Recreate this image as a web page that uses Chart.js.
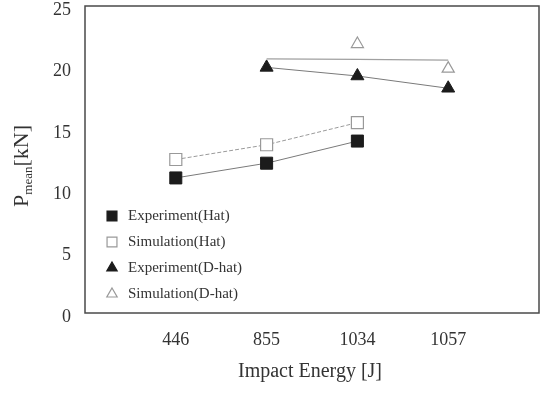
<!DOCTYPE html>
<html>
<head>
<meta charset="utf-8">
<script src="https://cdn.jsdelivr.net/npm/chart.js@4/dist/chart.umd.min.js"></script>
<style>
  html, body { margin: 0; padding: 0; background: #fff; }
  #wrap { width: 545px; height: 393px; }
</style>
</head>
<body>
<div id="wrap"><canvas id="pmean"></canvas></div>
<script>
// x categories (blank slots at both ends keep the points off the frame)
const energies = ['', '446', '855', '1034', '1057', ''];

// P_mean values in kN, null where not measured
const expHat  = [null, 11.0, 12.2, 14.0, null, null];
const simHat  = [null, 12.5, 13.7, 15.5, null, null];
const expDhat = [null, null, 20.0, 19.3, 18.3, null];
const simDhat = [null, null, null, 21.9, 19.9, null];
// straight fit line drawn through the D-hat simulation
const simDhatFit = [null, null, 20.7, 20.65, 20.6, null];

const yTicks = [0, 5, 10, 15, 20, 25];

const serif = '"Liberation Serif", "DejaVu Serif", serif';
const ink = '#333333';

// frame, axis titles and in-plot legend
const decorations = {
  id: 'decorations',
  afterDraw(chart) {
    const ctx = chart.ctx;
    const a = chart.chartArea;
    ctx.save();
    ctx.strokeStyle = '#4a4a4a';
    ctx.lineWidth = 1.5;
    ctx.strokeRect(a.left, a.top, a.right - a.left, a.bottom - a.top);

    ctx.fillStyle = ink;
    ctx.textBaseline = 'middle';
    ctx.textAlign = 'center';
    ctx.font = '20px ' + serif;
    ctx.fillText('Impact Energy [J]', 310, 372);

    // y title with subscript
    ctx.translate(22, 166);
    ctx.rotate(-Math.PI / 2);
    const big = '22px ' + serif, small = '13px ' + serif;
    ctx.font = big; const wP = ctx.measureText('P').width;
    ctx.font = small; const wM = ctx.measureText('mean').width;
    ctx.font = big; const wK = ctx.measureText('[kN]').width;
    let x = -(wP + wM + wK) / 2;
    ctx.textAlign = 'left';
    ctx.font = big; ctx.fillText('P', x, 0); x += wP;
    ctx.font = small; ctx.fillText('mean', x, 7); x += wM;
    ctx.font = big; ctx.fillText('[kN]', x, 0);
    ctx.restore();

    // legend
    ctx.save();
    const rows = [216, 242, 268, 294];
    const shown = chart.data.datasets.filter(d => !d.hideLegend);
    shown.forEach((d, i) => {
      const y = rows[i];
      ctx.fillStyle = d.pointBackgroundColor;
      ctx.strokeStyle = d.pointBorderColor;
      ctx.lineWidth = 1.2;
      Chart.helpers.drawPoint(ctx, {pointStyle: d.pointStyle, radius: d.pointStyle === 'rect' ? 7 : 6, borderWidth: 1.2}, 112, y);
      ctx.fillStyle = ink;
      ctx.font = '15px ' + serif;
      ctx.textAlign = 'left';
      ctx.textBaseline = 'middle';
      ctx.fillText(d.label, 128, y);
    });
    ctx.restore();
  }
};

new Chart(document.getElementById('pmean'), {
  type: 'line',
  data: {
    labels: energies,
    datasets: [
      {
        label: 'Experiment(Hat)', data: expHat,
        borderColor: '#7a7a7a', borderWidth: 1,
        pointStyle: 'rect', pointRadius: 8.5,
        pointBackgroundColor: '#1c1c1c', pointBorderColor: '#1c1c1c', pointBorderWidth: 1
      },
      {
        label: 'Simulation(Hat)', data: simHat,
        borderColor: '#9a9a9a', borderWidth: 1, borderDash: [4, 2],
        pointStyle: 'rect', pointRadius: 8.5,
        pointBackgroundColor: '#ffffff', pointBorderColor: '#999999', pointBorderWidth: 1.2
      },
      {
        label: 'Experiment(D-hat)', data: expDhat,
        borderColor: '#7a7a7a', borderWidth: 1,
        pointStyle: 'triangle', pointRadius: 7.5,
        pointBackgroundColor: '#1c1c1c', pointBorderColor: '#1c1c1c', pointBorderWidth: 1
      },
      {
        label: 'Simulation(D-hat)', data: simDhat, showLine: false,
        borderColor: '#999999',
        pointStyle: 'triangle', pointRadius: 7,
        pointBackgroundColor: '#ffffff', pointBorderColor: '#999999', pointBorderWidth: 1.2
      },
      {
        label: 'fit', data: simDhatFit, hideLegend: true, spanGaps: true,
        borderColor: '#a0a0a0', borderWidth: 1.2, pointRadius: 0
      }
    ]
  },
  options: {
    responsive: true,
    maintainAspectRatio: false,
    animation: false,
    layout: { autoPadding: false, padding: { top: 6, right: 6, left: 0, bottom: 0 } },
    plugins: { legend: { display: false }, tooltip: { enabled: false } },
    scales: {
      x: {
        offset: false,
        grid: { display: false, drawTicks: false },
        border: { display: false },
        ticks: { color: ink, font: { family: serif, size: 18 }, padding: 16, maxRotation: 0, autoSkip: false },
        afterFit(scale) {
          scale.height = 80;
          scale.paddingLeft = 0; scale.paddingRight = 0;
        }
      },
      y: {
        min: 0, max: 25,
        afterBuildTicks(scale) { scale.ticks = yTicks.map(v => ({ value: v })); },
        grid: { display: false, drawTicks: false },
        border: { display: false },
        ticks: { color: ink, font: { family: serif, size: 18 }, padding: 14, labelOffset: 4 },
        afterFit(scale) {
          scale.width = 85;
          scale.paddingTop = 0; scale.paddingBottom = 0;
        }
      }
    }
  },
  plugins: [decorations]
});
</script>
</body>
</html>
